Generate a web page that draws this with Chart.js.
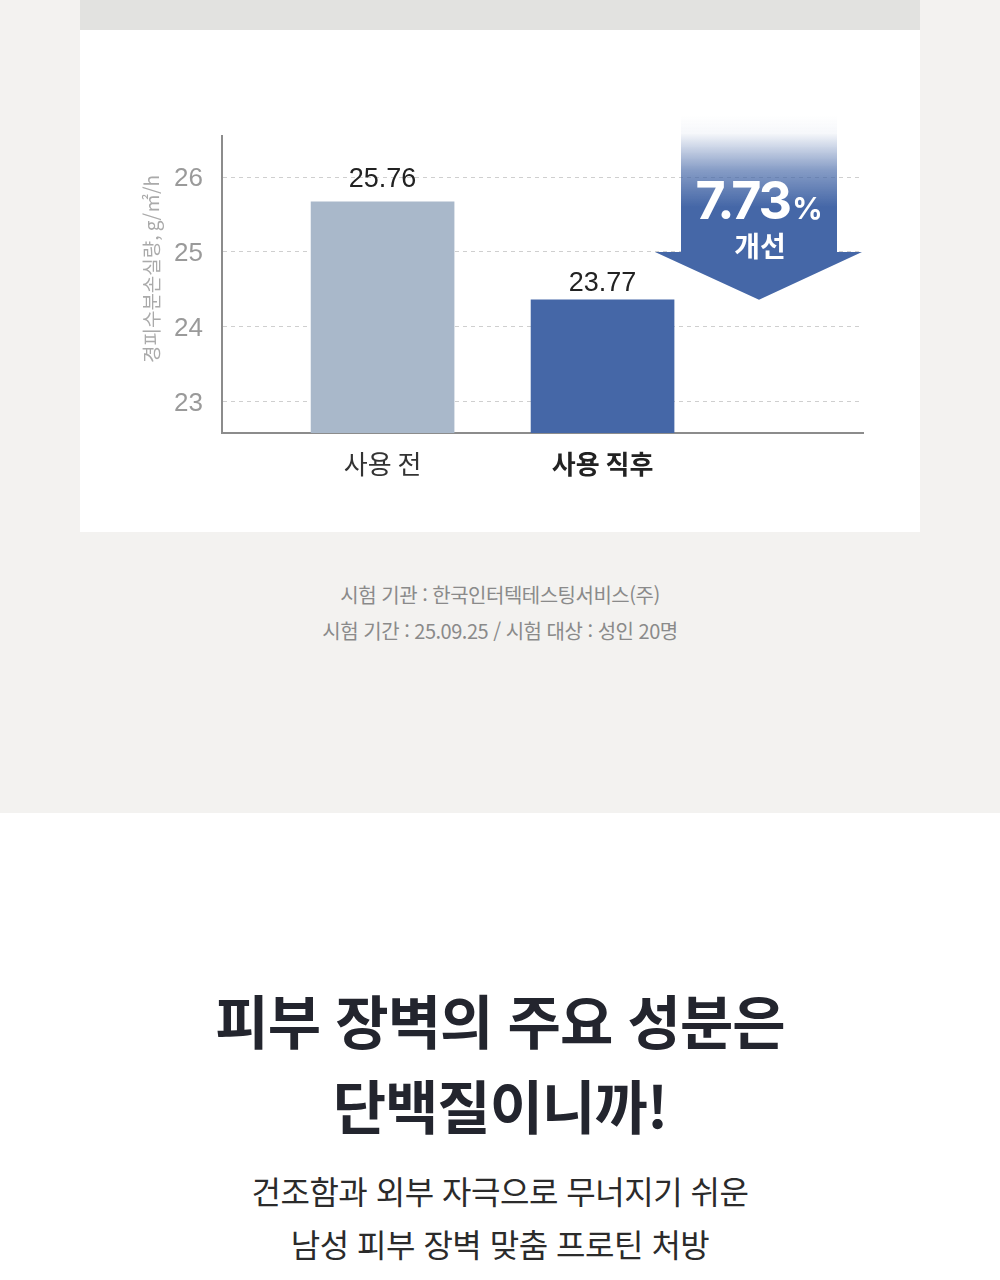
<!DOCTYPE html>
<html lang="ko">
<head>
<meta charset="utf-8">
<script src="https://cdn.jsdelivr.net/npm/chart.js@4.4.1/dist/chart.umd.min.js"></script>
<style>
html,body{margin:0;padding:0;}
body{width:1000px;height:1280px;position:relative;background:#ffffff;overflow:hidden;
  font-family:'Noto Sans CJK KR','Noto Sans',sans-serif;}
#topbg{position:absolute;left:0;top:0;width:1000px;height:813px;background:#f3f2f0;}
#card{position:absolute;left:80px;top:0;width:840px;height:532px;background:#ffffff;}
#strip{position:absolute;left:80px;top:0;width:840px;height:30px;background:#e2e2e0;}
#wrap{position:absolute;left:80px;top:30px;width:840px;height:502px;}
.note{position:absolute;left:0;width:1000px;text-align:center;font-size:20px;color:#8a8a8a;line-height:24px;letter-spacing:-0.5px;}
.head{position:absolute;left:0;width:1000px;text-align:center;font-size:58px;font-weight:700;color:#23252e;line-height:66px;letter-spacing:-1px;}
.sub{position:absolute;left:0;width:1000px;text-align:center;font-size:32px;color:#2b2b2b;line-height:40px;letter-spacing:-0.5px;}
</style>
</head>
<body>
<div id="topbg"></div>
<div id="card"></div>
<div id="strip"></div>
<div id="wrap"><canvas id="c" width="840" height="502"></canvas></div>
<div class="note" style="top:583px;">시험 기관 : 한국인터텍테스팅서비스(주)</div>
<div class="note" style="top:619px;">시험 기간 : 25.09.25 / 시험 대상 : 성인 20명</div>
<div class="head" style="top:986px;">피부 장벽의 주요 성분은</div>
<div class="head" style="top:1071px;">단백질이니까!</div>
<div class="sub" style="top:1170px;">건조함과 외부 자극으로 무너지기 쉬운</div>
<div class="sub" style="top:1223px;">남성 피부 장벽 맞춤 프로틴 처방</div>
<script>
// ---- data ----
const categories = ['사용 전', '사용 직후'];
const barValues = [25.67, 24.36];        // bar tops as drawn against the y axis
const valueLabels = ['25.76', '23.77'];  // numbers printed above the bars
const yTicks = [23, 24, 25, 26];
const yTitle = '경피수분손실량, g/㎡/h';
const improvementValue = '7.73';
const improvementUnit = '%';
const improvementText = '개선';

const BLUE = '69,103,167';
const labelGap = [15, 9];

const overlay = {
  id: 'overlay',
  afterDatasetsDraw(chart) {
    const {ctx, chartArea, scales} = chart;
    const xs = scales.x, ys = scales.y;
    // value labels
    ctx.save();
    ctx.fillStyle = '#222222';
    ctx.font = '27px "Liberation Sans", Arial, sans-serif';
    ctx.textAlign = 'center';
    ctx.textBaseline = 'alphabetic';
    barValues.forEach((v, i) => {
      const px = xs.getPixelForValue(i + 1);
      const py = ys.getPixelForValue(v);
      ctx.fillText(valueLabels[i], px, py - labelGap[i]);
    });
    ctx.restore();

    // arrow
    const cx = chartArea.left + 537;
    const shaftHalf = 78;
    const headL = cx - 104, headR = cx + 103;
    const top = chartArea.top - 21;
    const headBase = ys.getPixelForValue(25);
    const tip = ys.getPixelForValue(barValues[1]);
    const g = ctx.createLinearGradient(0, top, 0, top + 92);
    g.addColorStop(0, 'rgba(' + BLUE + ',0)');
    g.addColorStop(0.2, 'rgba(' + BLUE + ',0.05)');
    g.addColorStop(0.6, 'rgba(' + BLUE + ',0.65)');
    g.addColorStop(1, 'rgba(' + BLUE + ',1)');
    ctx.save();
    ctx.fillStyle = g;
    ctx.beginPath();
    ctx.moveTo(cx - shaftHalf, top);
    ctx.lineTo(cx + shaftHalf, top);
    ctx.lineTo(cx + shaftHalf, headBase);
    ctx.lineTo(headR, headBase);
    ctx.lineTo(cx, tip);
    ctx.lineTo(headL, headBase);
    ctx.lineTo(cx - shaftHalf, headBase);
    ctx.closePath();
    ctx.fill();
    // arrow text
    ctx.fillStyle = '#ffffff';
    ctx.textBaseline = 'alphabetic';
    const bigFont = 'bold 52px Inter, "Liberation Sans", sans-serif';
    const smallFont = 'bold 30px Inter, "Liberation Sans", sans-serif';
    ctx.font = bigFont;
    if ('letterSpacing' in ctx) ctx.letterSpacing = '-2px';
    const w1 = ctx.measureText(improvementValue).width;
    ctx.font = smallFont;
    if ('letterSpacing' in ctx) ctx.letterSpacing = '0px';
    const w2 = ctx.measureText(improvementUnit).width;
    const startX = cx - (w1 + w2 + 2) / 2;
    const baseY = chartArea.top + 83;
    ctx.textAlign = 'left';
    ctx.font = bigFont;
    if ('letterSpacing' in ctx) ctx.letterSpacing = '-2px';
    ctx.fillText(improvementValue, startX, baseY);
    ctx.font = smallFont;
    if ('letterSpacing' in ctx) ctx.letterSpacing = '0px';
    ctx.fillText(improvementUnit, startX + w1 + 2, baseY);
    ctx.textAlign = 'center';
    ctx.font = 'bold 28px "Noto Sans CJK KR", sans-serif';
    ctx.fillText(improvementText, cx + 1, chartArea.top + 121);
    ctx.restore();

    // y axis title
    ctx.save();
    ctx.translate(72, chartArea.top + 133);
    ctx.rotate(-Math.PI / 2);
    ctx.fillStyle = '#aaaaaa';
    ctx.font = '19px "Noto Sans CJK KR", sans-serif';
    ctx.textAlign = 'center';
    ctx.textBaseline = 'middle';
    ctx.fillText(yTitle, 0, 0);
    ctx.restore();
  }
};

new Chart(document.getElementById('c'), {
  type: 'bar',
  data: {
    datasets: [{
      data: barValues.map((v, i) => ({x: i + 1, y: v})),
      backgroundColor: ['#a9b8ca', '#4567a7'],
      borderWidth: 0,
      barThickness: 143
    }]
  },
  options: {
    responsive: false,
    animation: false,
    devicePixelRatio: 1,
    layout: {padding: {left: 0, right: 57, top: 106, bottom: 0}},
    plugins: {legend: {display: false}, tooltip: {enabled: false}},
    scales: {
      x: {
        type: 'linear',
        min: 0.27,
        max: 3.184,
        offset: false,
        grid: {display: false, drawTicks: false, offset: false},
        border: {display: true, color: '#8c8c8c', width: 2},
        afterBuildTicks: s => { s.ticks = categories.map((c, i) => ({value: i + 1})); },
        afterFit: s => { s.height = 99; },
        ticks: {
          padding: 16,
          autoSkip: false,
          maxRotation: 0,
          color: ctx => ctx.index === 1 ? '#222222' : '#333333',
          font: ctx => ({family: '"Noto Sans CJK KR", sans-serif', size: 26, weight: ctx.index === 1 ? 'bold' : 'normal'}),
          callback: v => categories[Math.round(v) - 1] || ''
        }
      },
      y: {
        min: 22.578,
        max: 26.552,
        grid: {color: '#cfcfcf', lineWidth: 1, drawTicks: false},
        border: {display: true, color: '#8c8c8c', width: 2, dash: [4, 4]},
        afterBuildTicks: s => { s.ticks = yTicks.map(v => ({value: v})); },
        afterFit: s => { s.width = 142; },
        ticks: {
          padding: 19,
          labelOffset: 2,
          color: '#9a9a9a',
          font: {family: '"Liberation Sans", Arial, sans-serif', size: 26},
          callback: v => String(v)
        }
      }
    }
  },
  plugins: [overlay]
});
</script>
</body>
</html>
